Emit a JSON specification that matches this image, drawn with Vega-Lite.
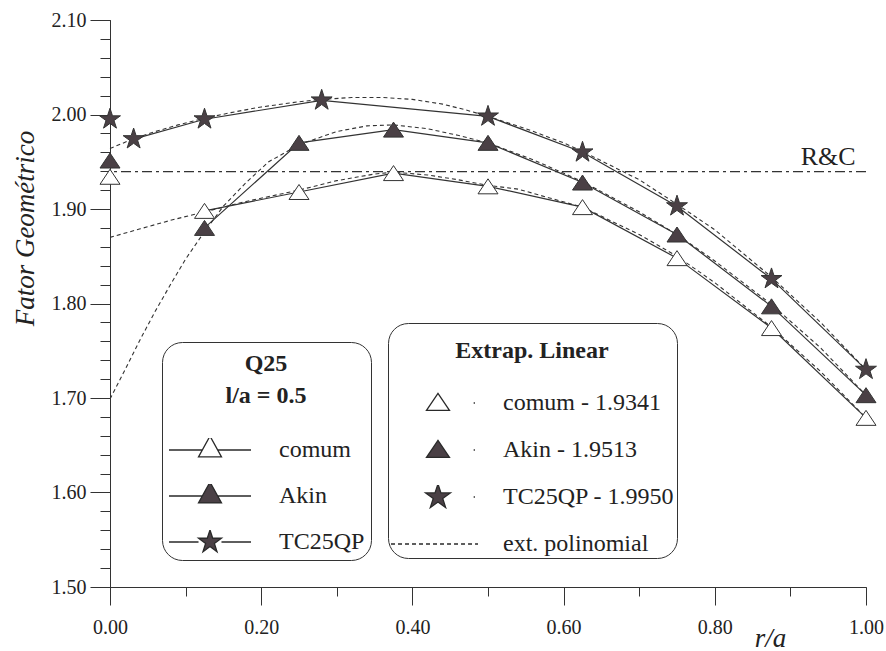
{
  "$schema": "https://vega.github.io/schema/vega-lite/v6.json",
  "width": 756,
  "height": 567,
  "autosize": {"type": "none"},
  "padding": {"left": 110, "top": 20, "right": 20, "bottom": 64},
  "background": "white",
  "config": {
    "view": {"stroke": null},
    "font": "Liberation Serif",
    "axis": {"grid": false, "domainColor": "#333", "tickColor": "#333", "labelColor": "#222", "titleColor": "#222", "labelFont": "Liberation Serif", "titleFont": "Liberation Serif"}
  },
  "datasets": {
    "pts": [
      {"series": "comum", "x": 0.125, "v": 1.898},
      {"series": "comum", "x": 0.25, "v": 1.918},
      {"series": "comum", "x": 0.375, "v": 1.938},
      {"series": "comum", "x": 0.5, "v": 1.924},
      {"series": "comum", "x": 0.625, "v": 1.902},
      {"series": "comum", "x": 0.75, "v": 1.848},
      {"series": "comum", "x": 0.875, "v": 1.774},
      {"series": "comum", "x": 1.0, "v": 1.679},
      {"series": "Akin", "x": 0.125, "v": 1.880},
      {"series": "Akin", "x": 0.25, "v": 1.970},
      {"series": "Akin", "x": 0.375, "v": 1.984},
      {"series": "Akin", "x": 0.5, "v": 1.970},
      {"series": "Akin", "x": 0.625, "v": 1.928},
      {"series": "Akin", "x": 0.75, "v": 1.873},
      {"series": "Akin", "x": 0.875, "v": 1.797},
      {"series": "Akin", "x": 1.0, "v": 1.703},
      {"series": "TC25QP", "x": 0.03125, "v": 1.974},
      {"series": "TC25QP", "x": 0.125, "v": 1.995},
      {"series": "TC25QP", "x": 0.28, "v": 2.015},
      {"series": "TC25QP", "x": 0.5, "v": 1.998},
      {"series": "TC25QP", "x": 0.625, "v": 1.960},
      {"series": "TC25QP", "x": 0.75, "v": 1.903},
      {"series": "TC25QP", "x": 0.875, "v": 1.826},
      {"series": "TC25QP", "x": 1.0, "v": 1.730}
    ],
    "poly": [
      {"series": "TC25QP", "x": 0.0, "v": 1.964},
      {"series": "TC25QP", "x": 0.03, "v": 1.974},
      {"series": "TC25QP", "x": 0.06, "v": 1.982},
      {"series": "TC25QP", "x": 0.09, "v": 1.989},
      {"series": "TC25QP", "x": 0.125, "v": 1.996},
      {"series": "TC25QP", "x": 0.16, "v": 2.002},
      {"series": "TC25QP", "x": 0.2, "v": 2.008},
      {"series": "TC25QP", "x": 0.25, "v": 2.0135},
      {"series": "TC25QP", "x": 0.28, "v": 2.016},
      {"series": "TC25QP", "x": 0.32, "v": 2.018},
      {"series": "TC25QP", "x": 0.36, "v": 2.018},
      {"series": "TC25QP", "x": 0.4, "v": 2.016},
      {"series": "TC25QP", "x": 0.44, "v": 2.011},
      {"series": "TC25QP", "x": 0.47, "v": 2.005},
      {"series": "TC25QP", "x": 0.5, "v": 1.998},
      {"series": "TC25QP", "x": 0.55, "v": 1.985},
      {"series": "TC25QP", "x": 0.6, "v": 1.970},
      {"series": "TC25QP", "x": 0.625, "v": 1.961},
      {"series": "TC25QP", "x": 0.7, "v": 1.931},
      {"series": "TC25QP", "x": 0.75, "v": 1.905},
      {"series": "TC25QP", "x": 0.8, "v": 1.878},
      {"series": "TC25QP", "x": 0.875, "v": 1.828},
      {"series": "TC25QP", "x": 0.94, "v": 1.780},
      {"series": "TC25QP", "x": 1.0, "v": 1.730},
      {"series": "Akin", "x": 0.0, "v": 1.699},
      {"series": "Akin", "x": 0.02, "v": 1.730},
      {"series": "Akin", "x": 0.04, "v": 1.762},
      {"series": "Akin", "x": 0.06, "v": 1.792},
      {"series": "Akin", "x": 0.08, "v": 1.820},
      {"series": "Akin", "x": 0.1, "v": 1.847},
      {"series": "Akin", "x": 0.125, "v": 1.876},
      {"series": "Akin", "x": 0.15, "v": 1.903},
      {"series": "Akin", "x": 0.18, "v": 1.928},
      {"series": "Akin", "x": 0.21, "v": 1.950},
      {"series": "Akin", "x": 0.25, "v": 1.968},
      {"series": "Akin", "x": 0.3, "v": 1.982},
      {"series": "Akin", "x": 0.34, "v": 1.988},
      {"series": "Akin", "x": 0.375, "v": 1.989},
      {"series": "Akin", "x": 0.42, "v": 1.985},
      {"series": "Akin", "x": 0.46, "v": 1.978},
      {"series": "Akin", "x": 0.5, "v": 1.970},
      {"series": "Akin", "x": 0.56, "v": 1.952},
      {"series": "Akin", "x": 0.625, "v": 1.929},
      {"series": "Akin", "x": 0.7, "v": 1.897},
      {"series": "Akin", "x": 0.75, "v": 1.873},
      {"series": "Akin", "x": 0.8, "v": 1.845},
      {"series": "Akin", "x": 0.875, "v": 1.799},
      {"series": "Akin", "x": 0.94, "v": 1.753},
      {"series": "Akin", "x": 1.0, "v": 1.703},
      {"series": "comum", "x": 0.0, "v": 1.870},
      {"series": "comum", "x": 0.04, "v": 1.879},
      {"series": "comum", "x": 0.08, "v": 1.888},
      {"series": "comum", "x": 0.125, "v": 1.897},
      {"series": "comum", "x": 0.18, "v": 1.908},
      {"series": "comum", "x": 0.25, "v": 1.920},
      {"series": "comum", "x": 0.3, "v": 1.930},
      {"series": "comum", "x": 0.35, "v": 1.937},
      {"series": "comum", "x": 0.375, "v": 1.939},
      {"series": "comum", "x": 0.42, "v": 1.936},
      {"series": "comum", "x": 0.46, "v": 1.931},
      {"series": "comum", "x": 0.5, "v": 1.925},
      {"series": "comum", "x": 0.54, "v": 1.921},
      {"series": "comum", "x": 0.58, "v": 1.912},
      {"series": "comum", "x": 0.625, "v": 1.902},
      {"series": "comum", "x": 0.7, "v": 1.873},
      {"series": "comum", "x": 0.75, "v": 1.850},
      {"series": "comum", "x": 0.8, "v": 1.822},
      {"series": "comum", "x": 0.875, "v": 1.775},
      {"series": "comum", "x": 0.94, "v": 1.728},
      {"series": "comum", "x": 1.0, "v": 1.679}
    ],
    "ext": [
      {"series": "comum", "extrap": "comum - 1.9341", "x": 0, "v": 1.9341},
      {"series": "Akin", "extrap": "Akin - 1.9513", "x": 0, "v": 1.9513},
      {"series": "TC25QP", "extrap": "TC25QP - 1.9950", "x": 0, "v": 1.9950}
    ],
    "rc": [
      {"label": "R&C", "x": 0.95, "v": 1.9395}
    ]
  },
  "layer": [
    {
      "data": {"name": "poly"},
      "mark": {"type": "line", "stroke": "#333", "strokeWidth": 1.1, "strokeDash": [4, 3]},
      "encoding": {
        "x": {"field": "x", "type": "quantitative", "scale": {"domain": [0, 1], "nice": false},
          "axis": {"orient": "bottom", "values": [0, 0.2, 0.4, 0.6, 0.8, 1.0], "format": ".2f", "tickSize": 18, "labelFontSize": 20, "labelPadding": 12, "labelFlush": false,
            "title": "r/a", "titleFontSize": 27, "titleFontStyle": "italic", "titleFontWeight": "normal", "titleX": 660, "titleY": 59, "titleAlign": "center", "titleBaseline": "alphabetic"}},
        "y": {"field": "v", "type": "quantitative", "scale": {"domain": [1.5, 2.1], "nice": false, "zero": false},
          "axis": {"orient": "left", "values": [1.5, 1.6, 1.7, 1.8, 1.9, 2.0, 2.1], "format": ".2f", "tickSize": 20, "labelFontSize": 20, "labelPadding": 4, "labelFlush": false,
            "title": "Fator Geométrico", "titleFontSize": 27, "titleFontStyle": "italic", "titleFontWeight": "normal", "titleAngle": -90, "titleX": -77, "titleY": 208, "titleAlign": "center", "titleBaseline": "alphabetic"}},
        "detail": {"field": "series"}
      }
    },
    {
      "data": {"name": "rc"},
      "mark": {"type": "rule", "stroke": "#333", "strokeWidth": 1.1, "strokeDash": [10, 4, 3, 4]},
      "encoding": {
        "y": {"field": "v", "type": "quantitative", "axis": null}
      }
    },
    {
      "data": {"name": "rc"},
      "mark": {"type": "text", "font": "Liberation Serif", "fontSize": 26, "color": "#222", "baseline": "alphabetic", "align": "center", "dy": -7},
      "encoding": {
        "x": {"field": "x", "type": "quantitative", "axis": null},
        "y": {"field": "v", "type": "quantitative", "axis": null},
        "text": {"field": "label"}
      }
    },
    {
      "data": {"name": "pts"},
      "mark": {"type": "line", "stroke": "#333", "strokeWidth": 1.2},
      "encoding": {
        "x": {"field": "x", "type": "quantitative",
          "axis": {"orient": "bottom", "values": [0.1, 0.3, 0.5, 0.7, 0.9], "tickSize": 9, "labels": false, "domain": true, "title": null}},
        "y": {"field": "v", "type": "quantitative",
          "axis": {"orient": "left", "values": [1.5, 1.52, 1.54, 1.56, 1.58, 1.6, 1.62, 1.64, 1.66, 1.68, 1.7, 1.72, 1.74, 1.76, 1.78, 1.8, 1.82, 1.84, 1.86, 1.88, 1.9, 1.92, 1.94, 1.96, 1.98, 2.0, 2.02, 2.04, 2.06, 2.08, 2.1], "tickSize": 10, "labels": false, "domain": true, "title": null}},
        "detail": {"field": "series"}
      }
    },
    {
      "data": {"name": "pts"},
      "mark": {"type": "point", "filled": true, "stroke": "#333", "strokeWidth": 1, "size": 400, "opacity": 1},
      "encoding": {
        "x": {"field": "x", "type": "quantitative", "axis": null},
        "y": {"field": "v", "type": "quantitative", "axis": null},
        "fill": {"field": "series", "type": "nominal", "scale": {"domain": ["comum", "Akin", "TC25QP"], "range": ["#ffffff", "#4a4045", "#4a4045"]}, "legend": null},
        "shape": {"field": "series", "type": "nominal", "legend": null,
          "scale": {"domain": ["comum", "Akin", "TC25QP"], "range": ["M0,-0.75L1,0.75L-1,0.75Z", "M0,-0.75L1,0.75L-1,0.75Z", "M0,-1.1L0.247,-0.34L1.046,-0.34L0.4,0.13L0.647,0.89L0,0.42L-0.647,0.89L-0.4,0.13L-1.046,-0.34L-0.247,-0.34Z"]}}
      }
    },
    {
      "data": {"name": "ext"},
      "mark": {"type": "point", "filled": true, "stroke": "#333", "strokeWidth": 1, "size": 400, "opacity": 1},
      "encoding": {
        "x": {"field": "x", "type": "quantitative", "axis": null},
        "y": {"field": "v", "type": "quantitative", "axis": null},
        "fill": {"field": "series", "type": "nominal", "scale": {"domain": ["comum", "Akin", "TC25QP"], "range": ["#ffffff", "#4a4045", "#4a4045"]}, "legend": null},
        "shape": {"field": "series", "type": "nominal", "legend": null,
          "scale": {"domain": ["comum", "Akin", "TC25QP"], "range": ["M0,-0.75L1,0.75L-1,0.75Z", "M0,-0.75L1,0.75L-1,0.75Z", "M0,-1.1L0.247,-0.34L1.046,-0.34L0.4,0.13L0.647,0.89L0,0.42L-0.647,0.89L-0.4,0.13L-1.046,-0.34L-0.247,-0.34Z"]}}
      }
    },
    {
      "data": {"name": "pts"},
      "transform": [{"filter": "false"}],
      "mark": {"type": "point", "filled": true, "strokeWidth": 1.3, "size": 6724, "opacity": 1},
      "encoding": {
        "fill": {"field": "series", "type": "nominal", "scale": {"domain": ["comum", "Akin", "TC25QP"], "range": ["#ffffff", "#4a4045", "#4a4045"]}},
        "stroke": {"field": "series", "type": "nominal", "scale": {"domain": ["comum", "Akin", "TC25QP"], "range": ["#2a2a2a", "#2a2a2a", "#2a2a2a"]}},
        "shape": {"field": "series", "type": "nominal",
          "scale": {"domain": ["comum", "Akin", "TC25QP"], "range": ["M0,-0.34L0.28,0.17L-0.28,0.17ZM-1,0L-0.187,0M0.187,0L1,0", "M0,-0.34L0.28,0.17L-0.28,0.17ZM-1,0L-0.187,0M0.187,0L1,0", "M0,-0.293L0.066,-0.091L0.279,-0.091L0.107,0.035L0.172,0.237L0,0.112L-0.172,0.237L-0.107,0.035L-0.279,-0.091L-0.066,-0.091ZM-1,0L-0.28,0M0.28,0L1,0"]},
          "legend": {
            "orient": "none", "legendX": 52, "legendY": 322,
            "title": ["Q25", "l/a = 0.5"],
            "titleFont": "Liberation Serif", "titleFontSize": 24, "titleFontWeight": "bold", "titleColor": "#222",
            "titleAnchor": "middle", "titleAlign": "center", "titleLineHeight": 32, "titleBaseline": "line-top", "titlePadding": 34,
            "padding": 6, "strokeColor": "#333", "fillColor": "white", "cornerRadius": 20,
            "rowPadding": 22, "clipHeight": 24, "symbolSize": 6724, "symbolStrokeWidth": 1.3, "labelOffset": 27, "labelLimit": 300,
            "labelFont": "Liberation Serif", "labelFontSize": 24, "labelColor": "#222"
          }
        }
      }
    },
    {
      "data": {"name": "ext"},
      "transform": [{"filter": "false"}],
      "mark": {"type": "point", "filled": true, "strokeWidth": 1.3, "size": 7569, "opacity": 1},
      "encoding": {
        "fill": {"field": "extrap", "type": "nominal", "scale": {"domain": ["comum - 1.9341", "Akin - 1.9513", "TC25QP - 1.9950", "ext. polinomial"], "range": ["#ffffff", "#4a4045", "#4a4045", "transparent"]}},
        "stroke": {"field": "extrap", "type": "nominal", "scale": {"domain": ["comum - 1.9341", "Akin - 1.9513", "TC25QP - 1.9950", "ext. polinomial"], "range": ["#2a2a2a", "#2a2a2a", "#2a2a2a", "#2a2a2a"]}},
        "shape": {"field": "extrap", "type": "nominal",
          "scale": {"domain": ["comum - 1.9341", "Akin - 1.9513", "TC25QP - 1.9950", "ext. polinomial"], "range": ["M0.08,-0.22L0.344,0.17L-0.184,0.17ZM0.9,0L0.93,0", "M0.08,-0.22L0.344,0.17L-0.184,0.17ZM0.9,0L0.93,0", "M0.08,-0.3L0.148,-0.093L0.365,-0.093L0.189,0.036L0.256,0.243L0.08,0.115L-0.096,0.243L-0.029,0.036L-0.205,-0.093L0.012,-0.093ZM0.9,0L0.93,0", "M-1,0L-0.908,0M-0.839,0L-0.747,0M-0.678,0L-0.586,0M-0.517,0L-0.425,0M-0.356,0L-0.264,0M-0.195,0L-0.103,0M-0.034,0L0.058,0M0.127,0L0.219,0M0.288,0L0.38,0M0.449,0L0.541,0M0.61,0L0.702,0M0.771,0L0.863,0M0.932,0L1,0"]},
          "legend": {
            "orient": "none", "legendX": 278, "legendY": 303,
            "title": "Extrap. Linear",
            "titleFont": "Liberation Serif", "titleFontSize": 24, "titleFontWeight": "bold", "titleColor": "#222",
            "titleAnchor": "middle", "titleAlign": "center", "titleLineHeight": 52, "titleBaseline": "line-top", "titlePadding": 42,
            "padding": 2, "strokeColor": "#333", "fillColor": "white", "cornerRadius": 20,
            "rowPadding": 23, "clipHeight": 24, "symbolSize": 7569, "symbolStrokeWidth": 1.3, "labelOffset": 24, "labelLimit": 300,
            "labelFont": "Liberation Serif", "labelFontSize": 24, "labelColor": "#222"
          }
        }
      }
    }
  ],
  "resolve": {
    "scale": {"shape": "independent", "fill": "independent", "stroke": "independent"},
    "axis": {"x": "independent", "y": "independent"}
  }
}
